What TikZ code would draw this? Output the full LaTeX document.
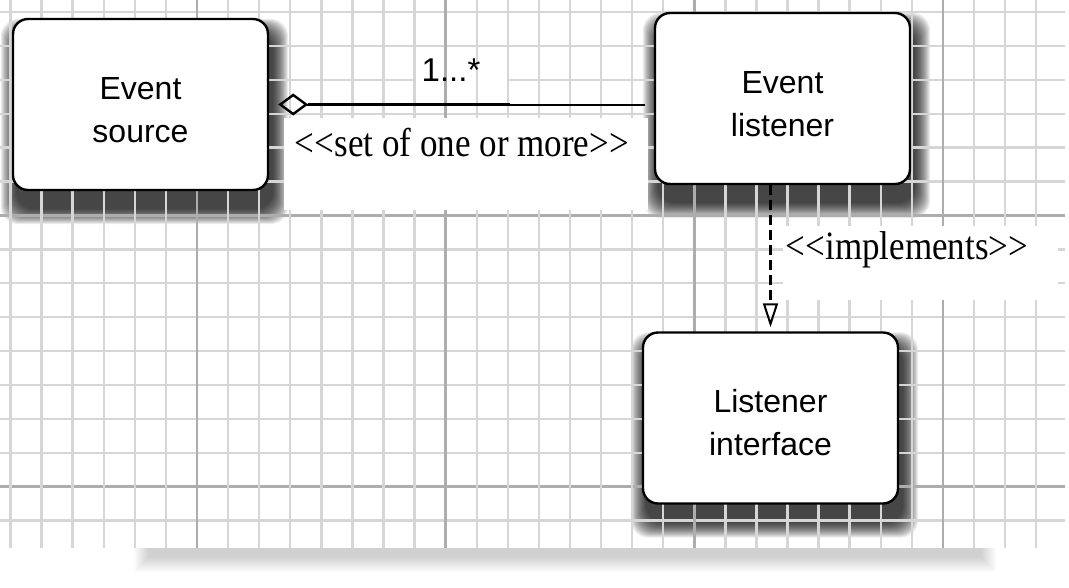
\documentclass[tikz,border=0pt]{standalone}
\usepackage{fontspec}
\setmainfont{Liberation Serif}
\setsansfont{Liberation Sans}
\usetikzlibrary{arrows.meta,calc}
\pgfdeclarelayer{paper}
\pgfdeclarelayer{shad}
\pgfdeclarelayer{grid}
\pgfsetlayers{paper,shad,grid,main}
\definecolor{minorgrid}{gray}{0.84}
\definecolor{majorgrid}{gray}{0.68}
\newcommand{\boxlift}{\rule{0pt}{33pt}}
\tikzset{
  box/.style={draw=black, fill=white, line width=2.4pt, rounded corners=15pt,
    minimum width=255pt, minimum height=171pt, inner sep=0pt, align=center,
    font=\sffamily\fontsize{32}{43}\selectfont},
  shadowlayer/.style={fill=black, fill opacity=0.075, rounded corners=18pt},
  paperlayer/.style={fill=black, fill opacity=0.011},
  minorline/.style={draw=minorgrid, line width=2.4pt},
  majorline/.style={draw=majorgrid, line width=2.8pt},
  stereo/.style={font=\rmfamily\fontsize{35}{40}\selectfont, inner sep=0pt},
  multlab/.style={font=\sffamily\fontsize{33}{36}\selectfont, inner sep=0pt},
  assoc/.style={line width=2pt, draw=black},
  assocthick/.style={line width=3.2pt, draw=black},
  realize/.style={line width=3.2pt, dash pattern=on 10pt off 5pt,
    -{Triangle[open, length=24pt, width=15pt, line width=2pt]}},
}
\begin{document}
\begin{tikzpicture}[x=1pt,y=-1pt]
\useasboundingbox (0,0) rectangle (1069,587);
% boxes
\node[box] (src) at (140.5,104.5) {\boxlift Event\\source};
\node[box] (lis) at (782.5,98.5) {\boxlift Event\\listener};
\node[box] (iface) at (770.5,418) {\boxlift Listener\\interface};
% labels
\node[multlab] (mult) at (451,70) {1...*};
\node[stereo] (setlab) at (462,143) {\scalebox{1}[1.15]{<\kern0.5pt<set of one or more>\kern0.5pt>}};
\node[stereo] (impl) at (907,250) {\scalebox{1}[1.15]{<\kern0.5pt<implements>\kern0.5pt>}};
% connectors
\draw[assoc, {Diamond[open, length=30pt, width=22pt, line width=2.4pt]}-, shorten <=9pt, shorten >=9pt]
  (src.east) -- (src.east -| lis.west);
\coordinate (thk) at (510,104.5);
\draw[assocthick, shorten <=39pt] (src.east) -- (thk);
\draw[realize, shorten >=4pt] (lis.south -| iface.north) -- (iface.north);
% paper
\begin{pgfonlayer}{paper}
  \foreach \i in {0,...,15} {
    \pgfmathsetmacro\ee{16-\i}
    \path[paperlayer] (150-\ee,543-\ee) rectangle (980+\ee,556+\ee);
  }
  \fill[white] (0,0) rectangle (1069,548);
\end{pgfonlayer}
% box shadows
\begin{pgfonlayer}{shad}
  \foreach \n in {src,lis,iface} {
    \foreach \i in {0,...,15} {
      \pgfmathsetmacro\ee{16-\i}
      \path[shadowlayer] ($(\n.south west)+(5-\ee,17+\ee)$) rectangle ($(\n.north east)+(3+\ee,17-\ee)$);
    }
  }
\end{pgfonlayer}
% grid
\begin{pgfonlayer}{grid}
  \foreach \k in {0,...,15} {
    \pgfmathsetmacro\yy{12+33.9*\k}
    \draw[minorline] (0,\yy) -- (1065,\yy);
  }
  \foreach \k in {6,14} {
    \pgfmathsetmacro\yy{12+33.9*\k}
    \draw[majorline] (0,\yy) -- (1065,\yy);
  }
  \fill[white] (415,74) rectangle (508,88);
  \foreach \k in {0,...,33} {
    \pgfmathsetmacro\xx{10.5+31.08*\k}
    \draw[minorline] (\xx,0) -- (\xx,548);
  }
  \foreach \k in {6,14,22,30} {
    \pgfmathsetmacro\xx{10.5+31.08*\k}
    \draw[majorline] (\xx,0) -- (\xx,548);
  }
  \fill[white] (284,118) rectangle (648,210);
  \fill[white] (783,226) rectangle (1058,300);
\end{pgfonlayer}
\end{tikzpicture}
\end{document}
